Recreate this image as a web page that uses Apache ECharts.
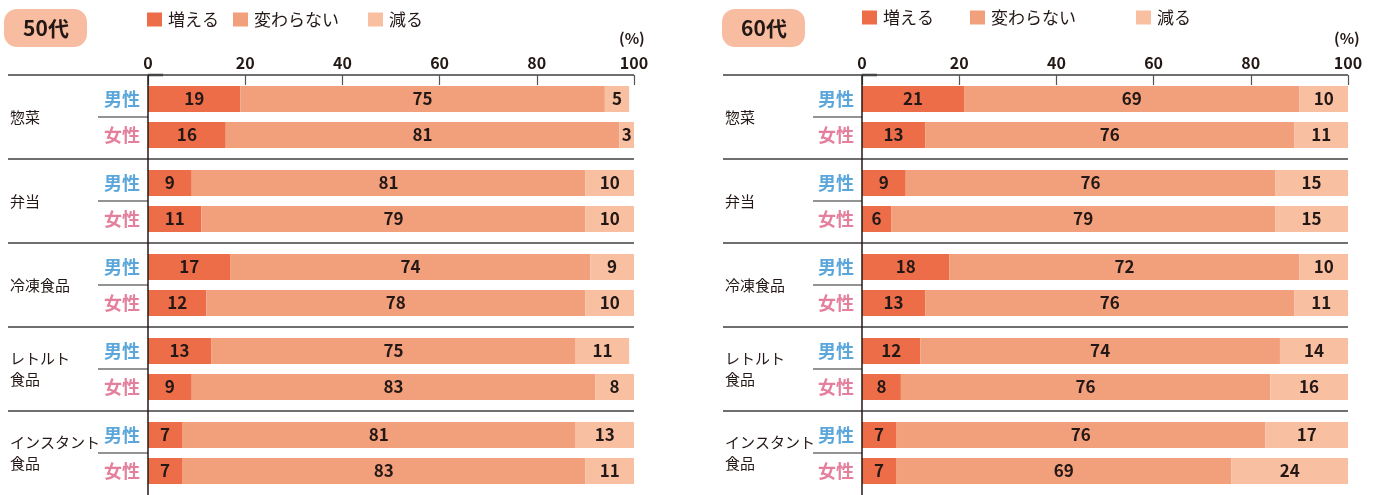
<!DOCTYPE html>
<html>
<head>
<meta charset="utf-8">
<script src="https://cdn.jsdelivr.net/npm/echarts@6/dist/echarts.min.js"></script>
<style>
html,body{margin:0;padding:0;background:#fff;}
#chart{width:1379px;height:495px;}
</style>
</head>
<body>
<div id="chart"></div>
<script>
// ---- data ----
const ageLabels = ['50代', '60代'];
const categories = ['惣菜', '弁当', '冷凍食品', 'レトルト\n食品', 'インスタント\n食品'];
const genders = ['男性', '女性'];
const seriesNames = ['増える', '変わらない', '減る'];
const tickValues = [0, 20, 40, 60, 80, 100];
const unitLabel = '(%)';

// rows: 惣菜男, 惣菜女, 弁当男, 弁当女, 冷凍男, 冷凍女, レトルト男, レトルト女, インスタント男, インスタント女
const increase50 = [19, 16, 9, 11, 17, 12, 13, 9, 7, 7];
const same50     = [75, 81, 81, 79, 74, 78, 75, 83, 81, 83];
const decrease50 = [5, 3, 10, 10, 9, 10, 11, 8, 13, 11];

const increase60 = [21, 13, 9, 6, 18, 13, 12, 8, 7, 7];
const same60     = [69, 76, 76, 79, 72, 76, 74, 76, 76, 69];
const decrease60 = [10, 11, 15, 15, 10, 11, 14, 16, 17, 24];

// ---- style / layout ----
const FONT = '"Noto Sans CJK JP", "Noto Sans", sans-serif';
const TEXT = '#231815';
const colors = ['#ee6d49', '#f29f7b', '#f8bfa1'];
const badgeColor = '#f8bda0';
const sepColor = '#6f6f6f';
const maleColor = '#5ba7dc';
const femaleColor = '#e4809d';

const topY = 75, groupH = 84, gridPad = 6, plotW = 486;

const panels = [
  { age: ageLabels[0], data: [increase50, same50, decrease50], x0: 148, sepL: 8, subL: 98,
    badgeX: 4, legendX: [147, 233, 368], legendY: 11, pctX: 619, catX: 10 },
  { age: ageLabels[1], data: [increase60, same60, decrease60], x0: 862, sepL: 723, subL: 813,
    badgeX: 722, legendX: [862, 970, 1136], legendY: 9, pctX: 1334, catX: 725 }
];

const grid = [], xAxis = [], yAxis = [], series = [], graphic = [], legend = [];

panels.forEach((p, pi) => {
  // badge
  graphic.push({ type: 'rect', shape: { x: p.badgeX, y: 9, width: 83, height: 38, r: 13 },
    style: { fill: badgeColor } });
  graphic.push({ type: 'text', x: p.badgeX + 42, y: 28,
    style: { text: p.age, fill: TEXT, fontFamily: FONT, fontSize: 21, fontWeight: 'bold',
      textAlign: 'center', textVerticalAlign: 'middle' } });
  // unit
  graphic.push({ type: 'text', x: p.pctX, y: 38,
    style: { text: unitLabel, fill: TEXT, fontFamily: FONT, fontSize: 15, fontWeight: 'bold',
      textAlign: 'left', textVerticalAlign: 'middle' } });
  // legends
  seriesNames.forEach((n, k) => {
    legend.push({ data: [n], left: p.legendX[k], top: p.legendY, padding: 0,
      icon: 'rect', itemWidth: 15, itemHeight: 14, selectedMode: false,
      textStyle: { fontFamily: FONT, fontSize: 17, color: TEXT, padding: [0, 0, 0, 1] } });
  });

  categories.forEach((c, g) => {
    const gi = grid.length;
    const gTop = topY + g * groupH;
    grid.push({ left: p.x0, width: plotW, top: gTop + gridPad, height: groupH - 2 * gridPad });
    const first = g === 0;
    xAxis.push({
      gridIndex: gi, type: 'value', min: tickValues[0], max: tickValues[tickValues.length - 1],
      interval: tickValues[1] - tickValues[0],
      show: first, position: 'top', offset: gridPad,
      axisLine: { show: false },
      axisTick: { show: true, inside: true, length: 10, lineStyle: { color: '#555', width: 1.2 } },
      axisLabel: { fontFamily: FONT, fontSize: 16, fontWeight: 'bold', color: TEXT, margin: 4 },
      splitLine: { show: false }
    });
    yAxis.push({
      gridIndex: gi, type: 'category', data: genders, inverse: true,
      axisLine: { show: false }, axisTick: { show: false },
      axisLabel: { fontFamily: FONT, fontSize: 18, fontWeight: 'bold', margin: 8,
        color: (v) => v === genders[0] ? maleColor : femaleColor }
    });
    seriesNames.forEach((n, k) => {
      series.push({
        name: n, type: 'bar', stack: 'g' + gi, xAxisIndex: gi, yAxisIndex: gi,
        barWidth: 26, data: p.data[k].slice(2 * g, 2 * g + 2),
        itemStyle: { color: colors[k] },
        label: { show: true, position: 'inside', formatter: '{c}', fontFamily: FONT,
          fontSize: 17, fontWeight: 'bold', color: TEXT },
        emphasis: { disabled: true }, animation: false
      });
    });
    // group separator (top of each group)
    graphic.push({ type: 'line', shape: { x1: p.sepL, y1: gTop, x2: p.x0 + plotW, y2: gTop },
      style: { stroke: sepColor, lineWidth: 2 } });
    // sub separator between genders
    graphic.push({ type: 'line', shape: { x1: p.subL, y1: gTop + groupH / 2, x2: p.x0, y2: gTop + groupH / 2 },
      style: { stroke: sepColor, lineWidth: 1.5 } });
    // category label
    graphic.push({ type: 'text', x: p.catX, y: gTop + groupH / 2,
      style: { text: c, fill: TEXT, fontFamily: FONT, fontSize: 15, lineHeight: 21,
        textAlign: 'left', textVerticalAlign: 'middle' } });
  });
  // short dark segment at axis origin
  graphic.push({ type: 'line', shape: { x1: p.x0, y1: topY, x2: p.x0 + 15, y2: topY },
    style: { stroke: '#444', lineWidth: 2.5 } });
  // vertical axis line
  graphic.push({ type: 'line', shape: { x1: p.x0, y1: topY, x2: p.x0, y2: 495 },
    style: { stroke: TEXT, lineWidth: 1.5 }, z: 100 });
});

const chart = echarts.init(document.getElementById('chart'), null, { renderer: 'canvas' });
chart.setOption({
  animation: false,
  textStyle: { fontFamily: FONT },
  legend, grid, xAxis, yAxis, series, graphic
});
</script>
</body>
</html>
